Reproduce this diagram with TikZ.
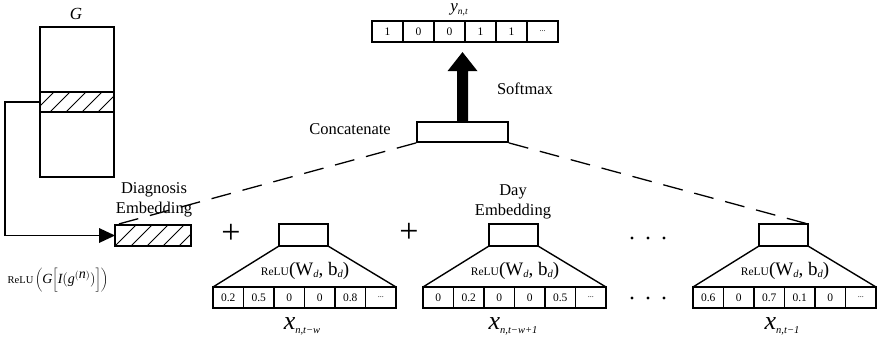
\documentclass[tikz,border=0pt]{standalone}
\usepackage{fontspec}
\setmainfont{Liberation Serif}
\usetikzlibrary{calc}
\newcommand{\relulbl}{{\fontsize{11.5}{11.5}\selectfont ReLU}{\fontsize{19}{19}\selectfont(W\raisebox{-2pt}{\fontsize{10.5}{10.5}\selectfont\itshape d}, b\raisebox{-2pt}{\fontsize{10.5}{10.5}\selectfont\itshape d})}}
\newcommand{\xlbl}[1]{{\fontsize{26}{26}\selectfont\itshape x}\raisebox{-4pt}{\fontsize{10.5}{10.5}\selectfont\itshape n,t#1}}
\begin{document}
\begin{tikzpicture}[x=1pt,y=-1pt,
  thickbox/.style={draw, line width=2.2pt, inner sep=0pt, outer sep=0pt},
  cell/.style={draw, line width=1.7pt, minimum width=30.5pt, minimum height=21pt, inner sep=0pt, outer sep=0pt, font=\fontsize{11.5}{11.5}\selectfont},
  ocell/.style={draw, line width=1.5pt, minimum width=31pt, minimum height=21pt, inner sep=0pt, outer sep=0pt, font=\fontsize{11.5}{11.5}\selectfont},
  lbl/.style={font=\fontsize{16.5}{20}\selectfont, inner sep=0pt, align=center},
  dashline/.style={line width=1.3pt, dash pattern=on 20pt off 12pt},
  hatch/.style={line width=0.9pt},
  plus/.style={font=\fontsize{34}{34}\selectfont, inner sep=0pt},
  dot/.style={circle, fill=black, inner sep=0pt, minimum size=3.2pt},
  trap/.style={line width=1.4pt},
]
\useasboundingbox (0,0) rectangle (880,341);

% G matrix
\node[thickbox, minimum width=74pt, minimum height=150pt] (G) at (77,102) {};
\node[lbl, font=\fontsize{17}{17}\selectfont\itshape] (Glbl) at (76,14) {G};
\node[thickbox, minimum width=74pt, minimum height=20pt] (band) at (77,102) {};
\begin{scope}
  \clip (band.south west) rectangle (band.north east);
  \foreach \i in {0,...,5} \draw[hatch] ($(band.south west)+(\i*16-6,0)$) -- ++(20,-20);
\end{scope}

% Diagnosis embedding
\node[thickbox, minimum width=76pt, minimum height=21pt] (diag) at (153,235.5) {};
\begin{scope}
  \clip (diag.south west) rectangle (diag.north east);
  \foreach \i in {0,...,6} \draw[hatch] ($(diag.south west)+(\i*16,0)$) -- ++(21,-21);
\end{scope}
\node[lbl] (diaglbl) at (154,200) {Diagnosis\\Embedding};
\coordinate (turn) at (5,102);
\draw[line width=1.4pt] (band.west) -- (turn) |- ($(diag.west)+(-14,0)$);
\fill ($(diag.west)+(-16,-7.5)$) -- (diag.west) -- ($(diag.west)+(-16,7.5)$) -- cycle;
\node[inner sep=0pt] (relug) at (58,280) {{\fontsize{10.5}{10.5}\selectfont ReLU}\,{\fontsize{14}{14}\selectfont$\bigg(\textit{G}\bigg[\textit{I}\Big(\textit{g}^{(\textit{n})}\Big)\bigg]\bigg)$}};

% plus signs
\node[plus] (p1) at (231,234) {+};
\node[plus] (p2) at (409,233) {+};

% Day units
\foreach \k/\sx/\va/\vb/\vc/\vd/\ve in {1/213/0.2/0.5/0/0/0.8, 2/423/0/0.2/0/0/0.5, 3/693/0.6/0/0.7/0.1/0}{
  \foreach \v [count=\i from 0] in {\va,\vb,\vc,\vd,\ve}
    \node[cell] (c\k-\i) at (\sx+15.25+30.5*\i,297.5) {\v};
  \node[cell, font=\fontsize{8}{8}\selectfont] (c\k-5) at (\sx+15.25+30.5*5,297.5) {...};
  \node[thickbox, minimum width=49pt, minimum height=22pt] (d\k) at (\sx+90.5,235) {};
  \draw[trap] (d\k.south west) -- (c\k-0.north west);
  \draw[trap] (d\k.south east) -- (c\k-5.north east);
  \node[inner sep=0pt] (r\k) at (\sx+92,271) {\relulbl};
}
\node[inner sep=0pt] (x1) at (302,326) {\xlbl{−w}};
\node[inner sep=0pt] (x2) at (513,326) {\xlbl{−w+1}};
\node[inner sep=0pt] (x3) at (782,326) {\xlbl{−1}};
\node[lbl] (daylbl) at (513,201.5) {Day\\Embedding};

% dots
\foreach \j/\xx in {1/632,2/648,3/664}{
  \node[dot] (ua\j) at (\xx,238) {};
  \node[dot] (ub\j) at (\xx,298) {};
}

% Concatenate
\node[draw, line width=1.8pt, inner sep=0pt, minimum width=91pt, minimum height=20pt] (cat) at (462.5,132) {};
\node[lbl, anchor=east] (catlbl) at (391,129) {Concatenate};
\draw[dashline] (cat.south west) -- (diag.north west);
\draw[dashline] (cat.south east) -- (d3.north east);

% Output
\foreach \v [count=\i from 1] in {1,0,0,1,1}
  \node[ocell] (o\i) at (372+15.5+31*\i-31,31.5) {\v};
\node[ocell, font=\fontsize{8}{8}\selectfont] (o6) at (372+15.5+31*5,31.5) {...};
\node[inner sep=0pt] (ylbl) at (459,10) {{\fontsize{17}{17}\selectfont\itshape y}\raisebox{-3pt}{\fontsize{9.5}{9.5}\selectfont\itshape n,t}};

% Softmax arrow
\fill ($(cat.north)+(-5.5,0)$) -- ++(0,-50) -- ++(-9.5,0) -- ($(cat.north)+(0,-69)$) -- ($(cat.north)+(15,-50)$) -- ++(-9.5,0) -- ($(cat.north)+(5.5,0)$) -- cycle;
\node[lbl] (smlbl) at (525,89) {Softmax};
\end{tikzpicture}
\end{document}
